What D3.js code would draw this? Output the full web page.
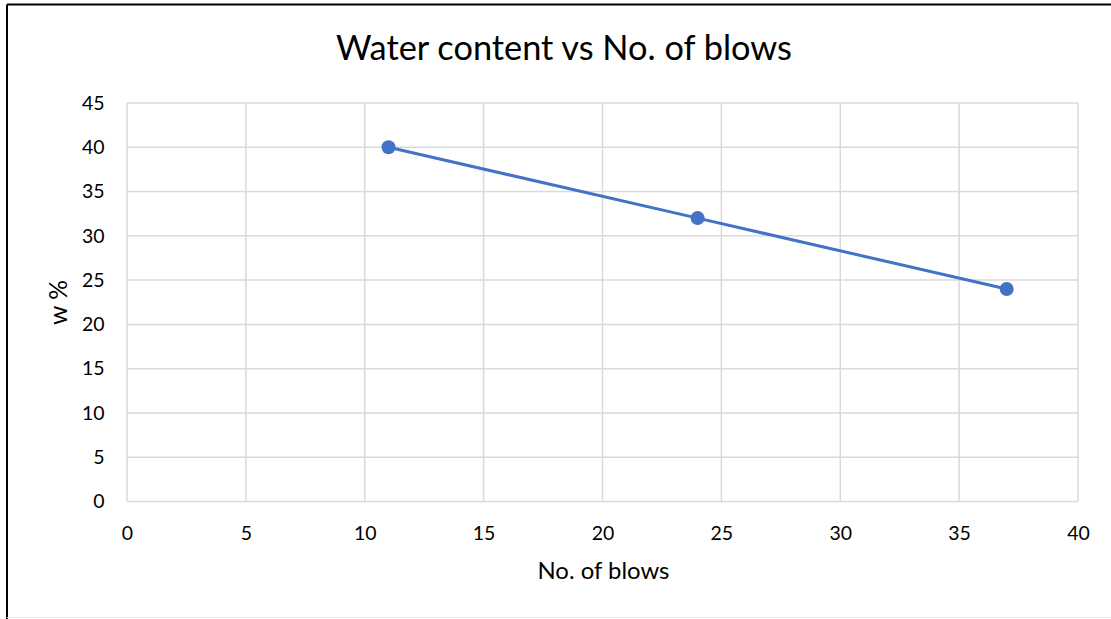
<!DOCTYPE html>
<html>
<head>
<meta charset="utf-8">
<script src="https://cdn.jsdelivr.net/npm/d3@7"></script>
<style>
  html, body { margin: 0; padding: 0; background: #fff; }
  svg { display: block; font-family: Lato, "Open Sans", sans-serif; }
</style>
</head>
<body>
<svg id="chart" width="1111" height="619"></svg>
<script>
// Liquid limit test: water content against number of blows
const blows = [11, 24, 37];
const waterContent = [40, 32, 24];
const xTicks = [0, 5, 10, 15, 20, 25, 30, 35, 40];
const yTicks = [0, 5, 10, 15, 20, 25, 30, 35, 40, 45];
const titleText = "Water content vs No. of blows";
const xTitle = "No. of blows";
const yTitle = "w %";

const svg = d3.select("#chart");
const W = 1111, H = 619;
const plot = { left: 127, right: 1078, top: 103, bottom: 501.5 };
const FONT = "Lato, 'Open Sans', sans-serif";

// size a text element so that its rendered width equals `width`
function fitWidth(sel, width) {
  sel.style("font-size", "20px");
  const w = sel.node().getComputedTextLength();
  const size = 20 * width / w;
  sel.style("font-size", size + "px");
  return size;
}

// outer frame (left and top edges)
svg.append("line").attr("x1", 7).attr("y1", 4.5).attr("x2", W).attr("y2", 4.5)
  .attr("stroke", "#000").attr("stroke-width", 2);
svg.append("line").attr("x1", 7).attr("y1", 4.5).attr("x2", 7).attr("y2", H)
  .attr("stroke", "#000").attr("stroke-width", 2);
svg.append("line").attr("x1", 7).attr("y1", 617.5).attr("x2", W).attr("y2", 617.5)
  .attr("stroke", "#e6e6e6").attr("stroke-width", 1);

const x = d3.scaleLinear().domain([0, 40]).range([plot.left, plot.right]);
const y = d3.scaleLinear().domain([0, 45]).range([plot.bottom, plot.top]);

// gridlines
const grid = svg.append("g").attr("stroke", "#d9d9d9").attr("stroke-width", 1.5);
grid.selectAll("line.v").data(xTicks).join("line")
  .attr("x1", d => x(d)).attr("x2", d => x(d))
  .attr("y1", plot.top).attr("y2", plot.bottom);
grid.selectAll("line.h").data(yTicks).join("line")
  .attr("x1", plot.left).attr("x2", plot.right)
  .attr("y1", d => y(d)).attr("y2", d => y(d));

// tick label size, taken from a two-digit label
const probe = svg.append("text").style("font-family", FONT).text("40");
const tickSize = fitWidth(probe, 22.6);
probe.remove();

// axes (labels only)
const xAxis = svg.append("g").attr("transform", `translate(0,${plot.bottom})`)
  .call(d3.axisBottom(x).tickValues(xTicks).tickSize(0).tickPadding(0));
xAxis.selectAll("text").attr("dy", null).attr("y", 38);
const yAxis = svg.append("g").attr("transform", `translate(${plot.left - 22.5},0)`)
  .call(d3.axisLeft(y).tickValues(yTicks).tickSize(0).tickPadding(0));
[xAxis, yAxis].forEach(a => {
  a.select(".domain").remove();
  a.selectAll("text").attr("fill", "#000")
    .style("font-size", tickSize + "px").style("font-family", FONT);
});

// series
const line = d3.line().x((d, i) => x(blows[i])).y(d => y(d));
svg.append("path").datum(waterContent)
  .attr("d", line).attr("fill", "none")
  .attr("stroke", "#4472C4").attr("stroke-width", 3);
svg.selectAll("circle.pt").data(waterContent).join("circle")
  .attr("class", "pt")
  .attr("cx", (d, i) => x(blows[i])).attr("cy", d => y(d))
  .attr("r", 7).attr("fill", "#4472C4");

// titles
const t = svg.append("text").attr("x", 336).attr("y", 59.5)
  .attr("fill", "#000").style("font-family", FONT).text(titleText);
fitWidth(t, 456);
const xt = svg.append("text").attr("x", 537.5).attr("y", 579)
  .attr("fill", "#000").style("font-family", FONT).text(xTitle);
fitWidth(xt, 132);
const yt = svg.append("text").attr("fill", "#000").style("font-family", FONT).text(yTitle);
fitWidth(yt, 45);
yt.attr("transform", "translate(66.5,325) rotate(-90)");
</script>
</body>
</html>
